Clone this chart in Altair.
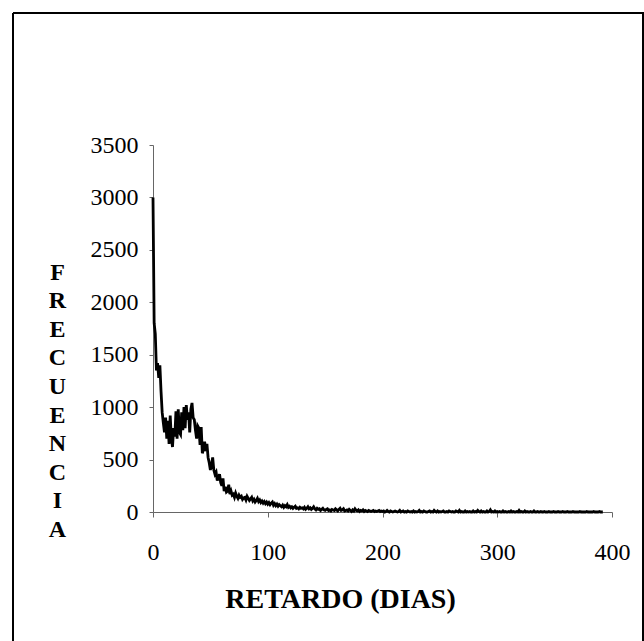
import altair as alt
import pandas as pd

# Frequency per delay day (index = day)
freq = [
    3000, 1800, 1700, 1350, 1420, 1280, 1400, 1150, 950, 850,
    760, 900, 700, 870, 650, 920, 700, 620, 800, 720,
    960, 700, 980, 760, 740, 950, 780, 1000, 800, 1020,
    880, 950, 760, 980, 1040, 900, 880, 780, 700, 820,
    800, 640, 810, 560, 600, 670, 580, 650, 520, 470,
    400, 450, 520, 400, 360, 380, 300, 330, 360, 280,
    250, 320, 200, 240, 190, 200, 260, 170, 200, 160,
    170, 140, 180, 150, 130, 160, 140, 150, 120, 135,
    140, 115, 150, 130, 110, 125, 140, 105, 120, 95,
    110, 130, 100, 115, 90, 105, 85, 100, 80, 95,
    75, 90, 70, 85, 95, 65, 80, 60, 75, 55,
    70, 60, 50, 65, 45, 60, 50, 70, 45, 55,
    40, 50, 35, 45, 55, 35, 40, 30, 45, 35,
    40, 30, 45, 25, 35, 50, 30, 40, 25, 35,
    50, 30, 20, 35, 25, 30, 15, 25, 35, 20,
    15, 25, 30, 15, 20, 10, 25, 20, 15, 30,
    20, 10, 25, 35, 15, 20, 30, 10, 15, 20,
    10, 25, 15, 5, 20, 10, 30, 15, 10, 20,
    5, 15, 10, 20, 5, 15, 10, 5, 15, 10,
    5, 10, 15, 5, 10, 5, 10, 15, 5, 10,
    5, 10, 0, 5, 15, 5, 0, 10, 5, 0,
    5, 10, 5, 0, 5, 15, 0, 5, 10, 0,
    5, 0, 10, 5, 0, 5, 0, 10, 0, 5,
    0, 5, 15, 0, 5, 0, 10, 5, 0, 0,
    5, 10, 0, 5, 0, 15, 5, 0, 10, 0,
    5, 0, 5, 10, 0, 0, 5, 0, 10, 5,
    0, 5, 0, 0, 10, 5, 0, 15, 0, 5,
    0, 0, 10, 0, 5, 0, 5, 0, 0, 10,
    0, 5, 0, 15, 5, 0, 10, 0, 5, 0,
    0, 10, 0, 5, 20, 0, 5, 0, 10, 0,
    5, 0, 5, 0, 0, 10, 0, 5, 0, 0,
    5, 0, 10, 0, 5, 0, 0, 5, 0, 15,
    0, 5, 0, 0, 10, 0, 5, 0, 0, 5,
    0, 0, 10, 0, 0, 5, 0, 0, 5, 0,
    0, 5, 0, 0, 0, 5, 0, 0, 0, 5,
    0, 0, 0, 5, 0, 0, 0, 5, 0, 0,
    0, 5, 0, 0, 0, 0, 5, 0, 0, 0,
    0, 0, 5, 0, 0, 0, 0, 0, 5, 0,
    0, 0, 0, 0, 5, 0, 0, 0, 0, 5,
    0, 0, 0,
]
days = list(range(len(freq)))

x_ticks = [0, 100, 200, 300, 400]
y_ticks = [0, 500, 1000, 1500, 2000, 2500, 3000, 3500]
y_title = ["F", "R", "E", "C", "U", "E", "N", "C", "I", "A"]
x_title = "RETARDO (DIAS)"

df = pd.DataFrame({"dia": days, "frecuencia": freq})

FONT = "Liberation Serif"

line = alt.Chart(df).mark_line(color="black", strokeWidth=2.8, strokeJoin="miter").encode(
    x=alt.X(
        "dia:Q",
        scale=alt.Scale(domain=[0, 400], nice=False),
        axis=alt.Axis(
            values=x_ticks,
            format="d",
            labelFlush=False,
            title=x_title,
            titleX=187,
            titleY=95,
            titleAlign="center",
            titleBaseline="alphabetic",
            titleFont=FONT,
            titleFontSize=28,
            titleFontWeight="bold",
            titleColor="black",
            labelFont=FONT,
            labelFontSize=24,
            labelColor="black",
            labelPadding=23,
            labelBaseline="top",
            tickSize=5,
            tickColor="#666",
            domainColor="#666",
            grid=False,
        ),
    ),
    y=alt.Y(
        "frecuencia:Q",
        scale=alt.Scale(domain=[0, 3500], nice=False),
        axis=alt.Axis(
            values=y_ticks,
            format="d",
            labelFlush=False,
            title=y_title,
            titleAngle=0,
            titleX=-96,
            titleY=134,
            titleAlign="center",
            titleBaseline="alphabetic",
            titleLineHeight=28.6,
            titleFont=FONT,
            titleFontSize=24,
            titleFontWeight="bold",
            titleColor="black",
            labelFont=FONT,
            labelFontSize=24,
            labelColor="black",
            labelPadding=11,
            tickSize=4,
            tickColor="#666",
            domainColor="#666",
            grid=False,
        ),
    ),
)

frame_df = pd.DataFrame({"k": [0]})
frame = alt.Chart(frame_df)
top_rule = frame.mark_rule(color="black", strokeWidth=2).encode(
    x=alt.value(-140), x2=alt.value(491), y=alt.value(-132)
)
left_rule = frame.mark_rule(color="black", strokeWidth=2).encode(
    x=alt.value(-140), y=alt.value(-132), y2=alt.value(496)
)
right_rule = frame.mark_rule(color="black", strokeWidth=2).encode(
    x=alt.value(490), y=alt.value(-132), y2=alt.value(496)
)

chart = alt.layer(line, top_rule, left_rule, right_rule).properties(
    width=459,
    height=367,
    autosize=alt.AutoSizeParams(type="none"),
    padding={"left": 153, "top": 145, "right": 32, "bottom": 129},
    background="white",
).configure_view(stroke=None)

chart.save("out.html", embed_options={"renderer": "svg", "actions": False})
